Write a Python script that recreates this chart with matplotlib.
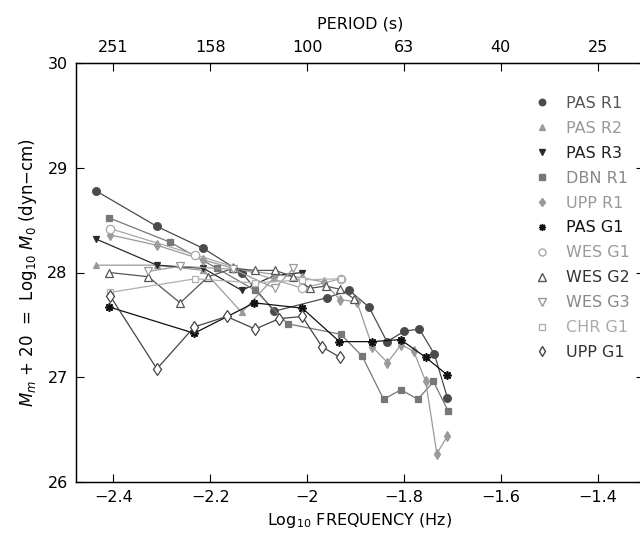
import matplotlib
matplotlib.use("Agg")
import matplotlib.pyplot as plt
from matplotlib.lines import Line2D

# ---- data (log10 frequency, Mm+20) ----
pas_r1_x = [-2.436, -2.310, -2.214, -2.135, -2.068, -1.958, -1.913, -1.872, -1.835, -1.799, -1.768, -1.737, -1.710]
pas_r1_y = [28.78, 28.44, 28.23, 28.00, 27.63, 27.76, 27.83, 27.67, 27.34, 27.44, 27.46, 27.22, 26.80]

pas_r2_x = [-2.436, -2.310, -2.214, -2.135, -2.068]
pas_r2_y = [28.07, 28.07, 28.02, 27.62, 27.95]

pas_r3_x = [-2.436, -2.310, -2.214, -2.135, -2.068, -2.010]
pas_r3_y = [28.32, 28.07, 28.04, 27.83, 27.97, 28.00]

dbn_r1_x = [-2.408, -2.283, -2.186, -2.107, -2.040, -1.930, -1.886, -1.842, -1.806, -1.771, -1.739, -1.709]
dbn_r1_y = [28.52, 28.29, 28.04, 27.83, 27.51, 27.41, 27.20, 26.79, 26.88, 26.79, 26.96, 26.68]

upp_r1_x = [-2.407, -2.310, -2.214, -2.152, -2.066, -2.010, -1.966, -1.932, -1.897, -1.865, -1.834, -1.806, -1.780, -1.755, -1.732, -1.710]
upp_r1_y = [28.36, 28.26, 28.12, 28.04, 27.98, 27.95, 27.91, 27.74, 27.72, 27.29, 27.14, 27.31, 27.25, 26.96, 26.27, 26.44]

pas_g1_x = [-2.408, -2.233, -2.109, -2.010, -1.933, -1.865, -1.807, -1.755, -1.710]
pas_g1_y = [27.67, 27.42, 27.71, 27.66, 27.34, 27.34, 27.36, 27.19, 27.02]

wes_g1_x = [-2.407, -2.231, -2.010, -1.930]
wes_g1_y = [28.42, 28.17, 27.85, 27.94]

wes_g2_x = [-2.409, -2.328, -2.262, -2.204, -2.152, -2.107, -2.066, -2.028, -1.994, -1.961, -1.932, -1.903]
wes_g2_y = [28.00, 27.96, 27.71, 27.96, 28.04, 28.02, 28.02, 27.96, 27.85, 27.87, 27.84, 27.75]

wes_g3_x = [-2.328, -2.262, -2.152, -2.066, -2.028]
wes_g3_y = [28.01, 28.06, 28.03, 27.85, 28.04]

chr_g1_x = [-2.407, -2.231, -2.107, -2.010, -1.930]
chr_g1_y = [27.81, 27.94, 27.90, 27.93, 27.94]

upp_g1_x = [-2.407, -2.310, -2.233, -2.166, -2.107, -2.057, -2.010, -1.969, -1.932]
upp_g1_y = [27.78, 27.08, 27.48, 27.58, 27.46, 27.56, 27.58, 27.29, 27.19]

labels = ["PAS R1", "PAS R2", "PAS R3", "DBN R1", "UPP R1", "PAS G1",
          "WES G1", "WES G2", "WES G3", "CHR G1", "UPP G1"]
xticks = [-2.4, -2.2, -2.0, -1.8, -1.6, -1.4]
xtick_labels = ["\u22122.4", "\u22122.2", "\u22122", "\u22121.8", "\u22121.6", "\u22121.4"]
period_labels = ["251", "158", "100", "63", "40", "25"]
yticks = [26, 27, 28, 29, 30]

series = [
    (pas_r1_x, pas_r1_y, dict(marker="o", color="#4a4a4a", mfc="#4a4a4a", ms=5.5)),
    (pas_r2_x, pas_r2_y, dict(marker="^", color="#9a9a9a", mfc="#9a9a9a", ms=5)),
    (pas_r3_x, pas_r3_y, dict(marker="v", color="#2a2a2a", mfc="#2a2a2a", ms=5)),
    (dbn_r1_x, dbn_r1_y, dict(marker="s", color="#777777", mfc="#777777", ms=4.5)),
    (upp_r1_x, upp_r1_y, dict(marker="d", color="#9a9a9a", mfc="#9a9a9a", ms=5)),
    (pas_g1_x, pas_g1_y, dict(marker=(8, 2, 0), color="#111111", mfc="#111111", ms=6, mew=1.2)),
    (wes_g1_x, wes_g1_y, dict(marker="o", color="#a8a8a8", mfc="white", ms=6)),
    (wes_g2_x, wes_g2_y, dict(marker="^", color="#555555", mfc="white", ms=6)),
    (wes_g3_x, wes_g3_y, dict(marker="v", color="#999999", mfc="white", ms=6)),
    (chr_g1_x, chr_g1_y, dict(marker="s", color="#b0b0b0", mfc="white", ms=5)),
    (upp_g1_x, upp_g1_y, dict(marker="d", color="#444444", mfc="white", ms=6)),
]
label_colors = ["#555555", "#999999", "#222222", "#888888", "#999999", "#111111",
                "#999999", "#333333", "#888888", "#aaaaaa", "#333333"]

plt.rcParams["font.family"] = ["DejaVu Sans"]
fig = plt.figure(figsize=(6.4, 5.44), dpi=100)
ax = fig.add_axes([76/640, 1-482/544, 568/640, (482-63)/544])

handles = []
for (x, y, st), lab in zip(series, labels):
    ax.plot(x, y, lw=0.9, mew=st.pop("mew", 0.9), **st, zorder=3)
    handles.append(Line2D([], [], lw=0, marker=st["marker"], color=st["color"],
                          mfc=st["mfc"], ms=st["ms"] * 0.85))

ax.set_xlim(-2.477, -1.3043)
ax.set_ylim(26, 30)
ax.set_xticks(xticks)
ax.set_xticklabels(xtick_labels)
ax.set_yticks(yticks)
ax.tick_params(direction="in", length=6, width=0.8, labelsize=11.5, pad=6, right=True)
for s in ax.spines.values():
    s.set_linewidth(1.0)
ax.set_xlabel("Log$_{10}$ FREQUENCY (Hz)", fontsize=11.5, labelpad=4)
ax.set_ylabel("$M_m$ + 20  =  Log$_{10}$ $M_0$ (dyn\u2212cm)", fontsize=12, labelpad=6)

top = ax.twiny()
top.set_xlim(ax.get_xlim())
top.set_xticks(xticks)
top.set_xticklabels(period_labels)
top.tick_params(direction="in", length=6, width=0.8, labelsize=11.5, pad=6)
top.set_xlabel("PERIOD (s)", fontsize=11.5, labelpad=8)

leg = ax.legend(handles, labels, loc="upper left", bbox_to_anchor=(526/640, 1-88/544),
                bbox_transform=fig.transFigure, frameon=False, fontsize=11.5,
                handlelength=1.0, handletextpad=1.0, labelspacing=0.62, borderpad=0)
for t, c in zip(leg.get_texts(), label_colors):
    t.set_color(c)

fig.savefig("out.png", dpi=100)
